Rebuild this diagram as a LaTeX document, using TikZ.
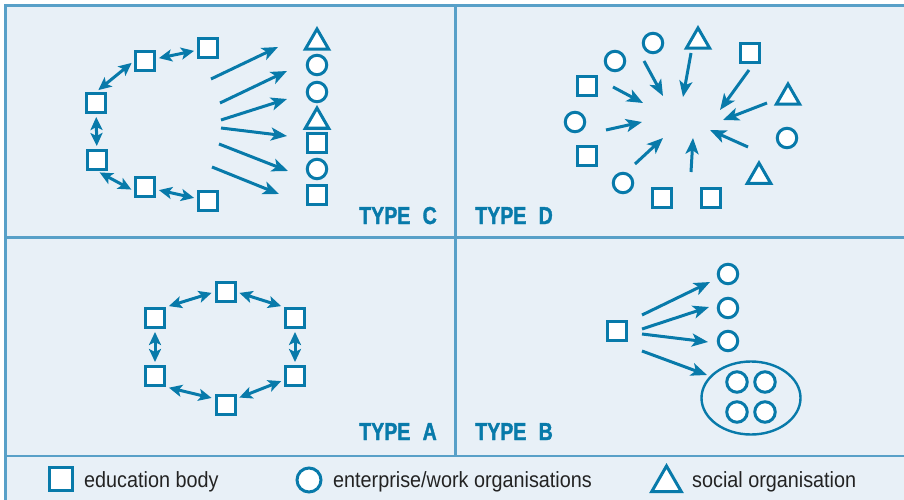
\documentclass[tikz,border=0pt]{standalone}
\usepackage{fontspec}
\setmainfont{Liberation Sans}[FakeStretch=0.9]
\newfontfamily\typefont{Liberation Sans Bold}[FakeStretch=0.8,FakeBold=1.4]
\usetikzlibrary{shapes.geometric,arrows.meta}

\definecolor{netblue}{RGB}{8,122,170}
\definecolor{gridblue}{RGB}{88,160,200}
\definecolor{panelbg}{RGB}{232,240,247}
\definecolor{keyink}{RGB}{35,35,35}

\tikzset{
	edu/.style={draw=netblue,fill=white,line width=3pt,minimum size=19pt,inner sep=0pt},
	firm/.style={circle,draw=netblue,fill=white,line width=3pt,minimum size=19.5pt,inner sep=0pt},
	soc/.style={regular polygon,regular polygon sides=3,draw=netblue,fill=white,line width=3pt,minimum size=27pt,inner sep=0pt},
	link/.style={draw=netblue,line width=3pt,-{Stealth[length=16pt,width=13pt,inset=4pt]}},
	twoway/.style={draw=netblue,line width=3pt,{Stealth[length=13pt,width=12pt,inset=3pt]}-{Stealth[length=13pt,width=12pt,inset=3pt]},shorten >=3pt,shorten <=3pt},
	typelabel/.style={text=netblue,font=\typefont\fontsize{24.5}{26}\selectfont,inner sep=0pt},
	keytext/.style={text=keyink,font=\fontsize{22}{24}\selectfont,inner sep=0pt,anchor=base west}
}

\begin{document}
\begin{tikzpicture}[x=1pt,y=-1pt]

	\useasboundingbox (0,0) rectangle (904,500);
	\fill[white] (0,0) rectangle (904,500);
	\fill[panelbg] (5,5) rectangle (904,500);
	\draw[gridblue,line width=2.2pt] (904,5.5) -- (5.5,5.5) -- (5.5,500);
	\draw[gridblue,line width=2.2pt] (5.5,237.5) -- (904,237.5);
	\draw[gridblue,line width=2.2pt] (5.5,456) -- (904,456);
	\draw[gridblue,line width=2.2pt] (455.5,5.5) -- (455.5,456);

	% type C
	\node (r1) at (208,48) [edu] {};
	\node (r2) at (145,61) [edu] {};
	\node (r3) at (96,103) [edu] {};
	\node (r4) at (97,160) [edu] {};
	\node (r5) at (145,187) [edu] {};
	\node (r6) at (208,201) [edu] {};

	\draw[twoway] (r2) -- (r1);
	\draw[twoway] (r3.north) -- (r2.west);
	\draw[twoway] (r3) -- (r4);
	\draw[twoway] (r4.south) -- (r5.200);
	\draw[twoway] (r5) -- (r6);

	\node (k1) at (317,42.5) [soc] {};
	\node (k2) at (317,65) [firm] {};
	\node (k3) at (317,92) [firm] {};
	\node (k4) at (317,121.5) [soc] {};
	\node (k5) at (317,143) [edu] {};
	\node (k6) at (317,169) [firm] {};
	\node (k7) at (317,195) [edu] {};

	\path (211,79) coordinate (ct1) (278,47) coordinate (ch1)
	      (220,103) coordinate (ct2) (287,71) coordinate (ch2)
	      (221,120) coordinate (ct3) (287,99) coordinate (ch3)
	      (221,128) coordinate (ct4) (287,136) coordinate (ch4)
	      (219,144) coordinate (ct5) (288,171) coordinate (ch5)
	      (212,167) coordinate (ct6) (279,194) coordinate (ch6);
	\draw[link] (ct1) -- (ch1);
	\draw[link] (ct2) -- (ch2);
	\draw[link] (ct3) -- (ch3);
	\draw[link] (ct4) -- (ch4);
	\draw[link] (ct5) -- (ch5);
	\draw[link] (ct6) -- (ch6);

	\node (typec) at (437,224) [typelabel,anchor=base east] {TYPE\enspace C};

	% type D
	\node (d1) at (653,43) [firm] {};
	\node (d2) at (698,41.5) [soc] {};
	\node (d3) at (750,53) [edu] {};
	\node (d4) at (615,61) [firm] {};
	\node (d5) at (587,86) [edu] {};
	\node (d6) at (788,97.5) [soc] {};
	\node (d7) at (575,122) [firm] {};
	\node (d8) at (787,138) [firm] {};
	\node (d9) at (587,156) [edu] {};
	\node (d10) at (759,176.5) [soc] {};
	\node (d11) at (623,183) [firm] {};
	\node (d12) at (662,198) [edu] {};
	\node (d13) at (711,198) [edu] {};

	\path (613,87) coordinate (dt1) (643,103) coordinate (dh1)
	      (644,61) coordinate (dt2) (663,96) coordinate (dh2)
	      (691,53) coordinate (dt3) (683,97) coordinate (dh3)
	      (749,70) coordinate (dt4) (720,110) coordinate (dh4)
	      (767,103) coordinate (dt5) (723,120) coordinate (dh5)
	      (748,147) coordinate (dt6) (710,130) coordinate (dh6)
	      (691,172) coordinate (dt7) (693,138) coordinate (dh7)
	      (635,164) coordinate (dt8) (663,138) coordinate (dh8)
	      (606,130) coordinate (dt9) (642,122) coordinate (dh9);
	\draw[link] (dt1) -- (dh1);
	\draw[link] (dt2) -- (dh2);
	\draw[link] (dt3) -- (dh3);
	\draw[link] (dt4) -- (dh4);
	\draw[link] (dt5) -- (dh5);
	\draw[link] (dt6) -- (dh6);
	\draw[link] (dt7) -- (dh7);
	\draw[link] (dt8) -- (dh8);
	\draw[link] (dt9) -- (dh9);

	\node (typed) at (475,224) [typelabel,anchor=base west] {TYPE\enspace D};

	% type A
	\node (a1) at (225.5,292) [edu] {};
	\node (a2) at (295,318) [edu] {};
	\node (a3) at (295,376) [edu] {};
	\node (a4) at (225.5,405) [edu] {};
	\node (a5) at (155,376) [edu] {};
	\node (a6) at (155,318) [edu] {};

	\draw[twoway] (a6.north east) -- (a1.west);
	\draw[twoway] (a1.east) -- (a2.north west);
	\draw[twoway] (a2) -- (a3);
	\draw[twoway] (a4.30) -- (a3.200);
	\draw[twoway] (a5.south east) -- (a4.150);
	\draw[twoway] (a6) -- (a5);

	\node (typea) at (437,440) [typelabel,anchor=base east] {TYPE\enspace A};

	% type B
	\node (b0) at (617,331) [edu] {};
	\node (b1) at (728,274) [firm] {};
	\node (b2) at (728,308) [firm] {};
	\node (b3) at (728,341) [firm] {};
	\node (grp) at (751,398) [ellipse,draw=netblue,line width=2.4pt,minimum width=99pt,minimum height=73pt,inner sep=0pt] {};
	\node (g1) at (737,382) [firm,minimum size=20.5pt] {};
	\node (g2) at (765,382) [firm,minimum size=20.5pt] {};
	\node (g3) at (737,412) [firm,minimum size=20.5pt] {};
	\node (g4) at (765,412) [firm,minimum size=20.5pt] {};

	\path (642,315) coordinate (bt1) (710,282) coordinate (bh1)
	      (642,329) coordinate (bt2) (709,307) coordinate (bh2)
	      (642,334) coordinate (bt3) (708,342) coordinate (bh3)
	      (642,351) coordinate (bt4) (707,375) coordinate (bh4);
	\draw[link] (bt1) -- (bh1);
	\draw[link] (bt2) -- (bh2);
	\draw[link] (bt3) -- (bh3);
	\draw[link] (bt4) -- (bh4);

	\node (typeb) at (475,440) [typelabel,anchor=base west] {TYPE\enspace B};

	% key
	\node (keyedu) at (60.5,479) [edu,line width=3pt,minimum size=23pt] {};
	\node (keyfirm) at (309,480) [firm,line width=3pt,minimum size=24pt] {};
	\node (keysoc) at (666.5,483) [soc,line width=3pt,minimum size=34pt] {};
	\node (keyedutxt) at (84,487) [keytext] {education body};
	\node (keyfirmtxt) at (333,487) [keytext] {enterprise/work organisations};
	\node (keysoctxt) at (692,487) [keytext] {social organisation};
	\end{tikzpicture}
\end{document}
